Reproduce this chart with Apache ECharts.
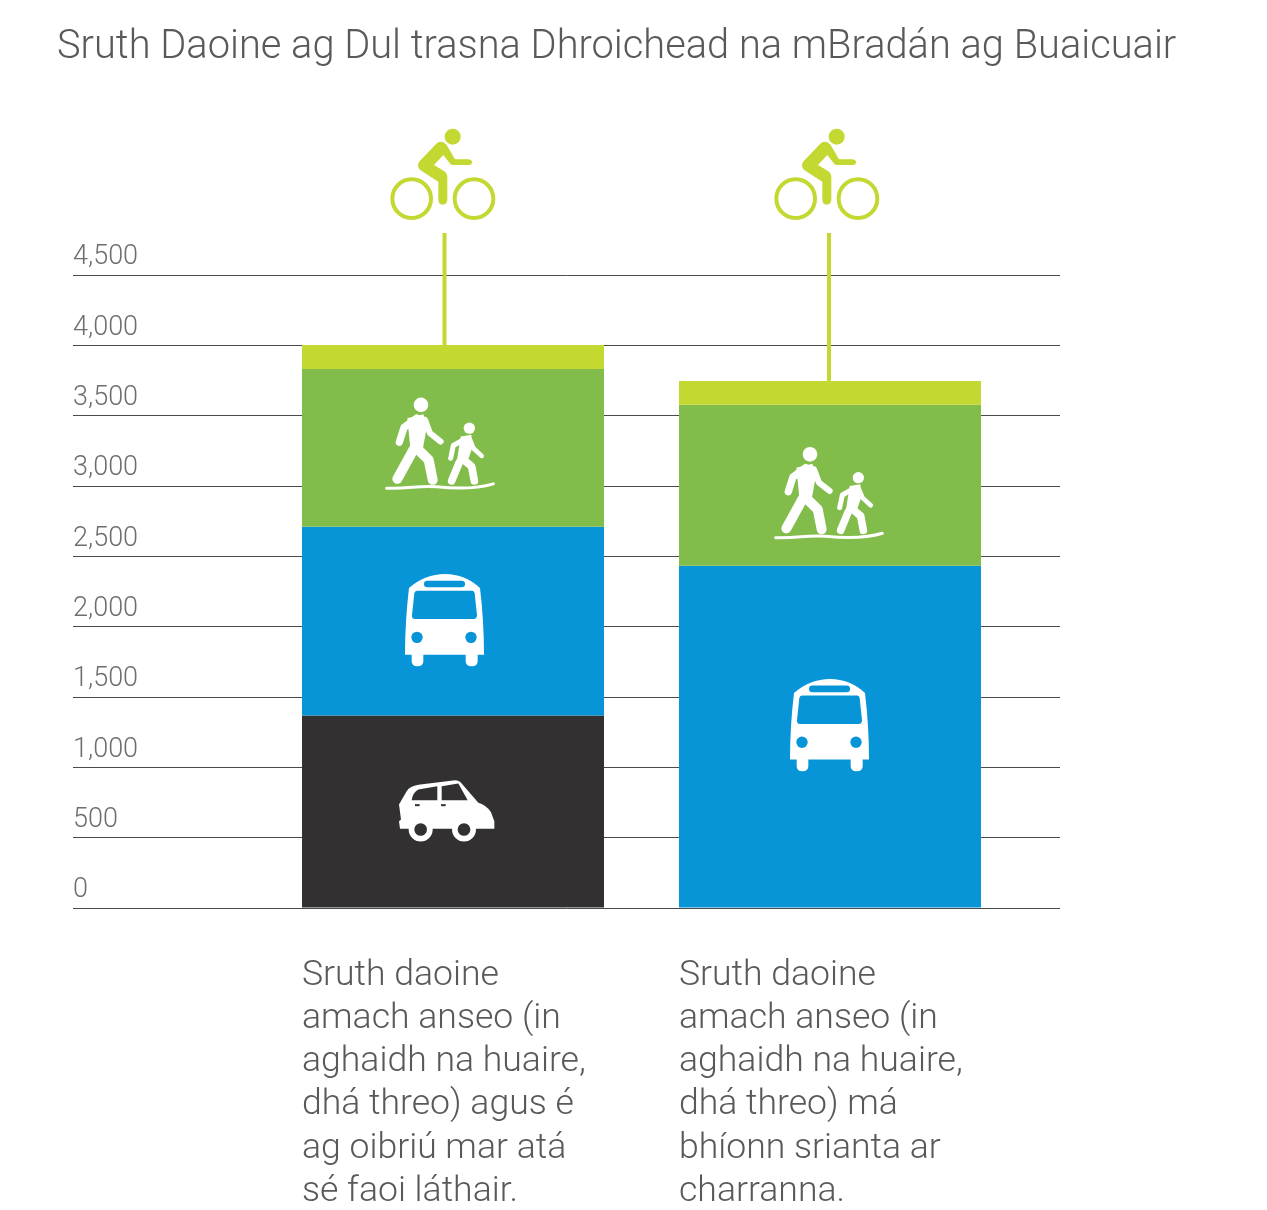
<!DOCTYPE html>
<html><head><meta charset="utf-8">
<style>html,body{margin:0;padding:0;background:#fff}#c{width:1267px;height:1210px}</style>
<script src="https://cdn.jsdelivr.net/npm/echarts@6/dist/echarts.min.js"></script>
</head><body><div id="c"></div>
<script>
const titleText = 'Sruth Daoine ag Dul trasna Dhroichead na mBradán ag Buaicuair';
const categories = [
  'Sruth daoine\namach anseo (in\naghaidh na huaire,\ndhá threo) agus é\nag oibriú mar atá\nsé faoi láthair.',
  'Sruth daoine\namach anseo (in\naghaidh na huaire,\ndhá threo) má\nbhíonn srianta ar\ncharranna.'
];
const carValues = [1365, 0];
const busValues = [1343, 2431];
const walkValues = [1124, 1145];
const cycleValues = [170, 170];

const FONT = 'Roboto';
const W = '#fff', LIME = '#c3d831', GREEN = '#82bc4a', BLUE = '#0795d8', DARK = '#323031';

function fillPath(d, fill) { return {type:'path', shape:{pathData:d}, style:{fill:fill}}; }
function strokePath(d, color, w) { return {type:'path', shape:{pathData:d}, style:{fill:'none', stroke:color, lineWidth:w, lineCap:'round', lineJoin:'round'}}; }
function disc(cx, cy, r, fill) { return {type:'circle', shape:{cx:cx, cy:cy, r:r}, style:{fill:fill}}; }
function ring(cx, cy, r, color, w) { return {type:'circle', shape:{cx:cx, cy:cy, r:r}, style:{fill:'none', stroke:color, lineWidth:w}}; }

const bikeIcon = () => [
  disc(278,50,24,LIME), ring(155,236,58,LIME,12), ring(342,236,58,LIME,12),
  fillPath('M232 68 Q248 60 260 75 L285 118 L326 118 Q336 120 336 127 Q336 135 326 135 L280 135 Q272 135 268 128 L250 105 L222 135 L252 153 Q262 160 262 172 L262 240 Q260 254 248 254 Q236 254 235 240 L235 185 L185 153 Q165 138 180 122 Z', LIME)
];
const walkIcon = () => [
  disc(153,60,22,W), disc(298,130,17,W),
  strokePath('M88 172 L102 128 L140 100 L130 190', W, 22),
  fillPath('M112 100 L160 88 L172 118 L158 195 L122 200 Z', W),
  strokePath('M130 195 L82 282', W, 30),
  strokePath('M140 190 L176 225 L188 285', W, 30),
  strokePath('M165 105 L180 145 L212 170', W, 18),
  strokePath('M242 220 L250 182 L285 162', W, 15),
  fillPath('M272 155 L304 150 L308 185 L292 232 L260 232 Z', W),
  strokePath('M268 232 L245 288', W, 23),
  strokePath('M278 222 L305 245 L313 288', W, 23),
  strokePath('M300 165 L310 190 L335 213', W, 14),
  strokePath('M50 310 C120 312 140 302 200 306 C260 312 320 312 370 297', W, 9)
];
const busIcon = () => [
  fillPath('M72 70 Q120 28 180 28 Q240 28 285 70 Q297 170 297 270 L278 270 L278 290 Q278 305 260 305 Q242 305 242 290 L242 270 L115 270 L115 290 Q115 305 97 305 Q80 305 80 290 L80 270 L60 270 Q60 170 72 70 Z', W),
  fillPath('M96 78 L262 78 Q268 78 269 86 L276 152 Q276 163 266 163 L90 163 Q80 163 81 152 L88 86 Q89 78 96 78 Z', BLUE),
  fillPath('M127 48 L230 48 Q240 48 240 58 Q240 68 230 68 L127 68 Q117 68 117 58 Q117 48 127 48 Z', BLUE),
  disc(96,218,17,BLUE), disc(258,218,17,BLUE)
];
const carIcon = () => [
  fillPath('M45 178 L42 155 L48 150 L42 105 L65 65 Q75 50 100 46 L210 32 Q222 32 230 42 L280 100 Q305 108 318 128 L328 155 L328 178 L45 178 Z', W),
  disc(107,180,36,W), disc(237,180,36,W),
  disc(107,180,19,DARK), disc(237,180,19,DARK),
  fillPath('M80 92 Q84 68 100 60 L157 50 L157 92 Z', DARK),
  fillPath('M170 50 L220 42 L248 92 L170 92 Z', DARK),
  fillPath('M90 104 L104 104 L104 110 L90 110 Z', DARK),
  fillPath('M168 104 L182 104 L182 110 L168 110 Z', DARK)
];

// Anchors: each pictogram sits on its segment's middle (or the stack top), nudged by a pixel offset.
const stackTop = i => carValues[i] + busValues[i] + walkValues[i] + cycleValues[i];
const placements = [
  {cat:0, value:carValues[0]/2, dx:-68, dy:-42, icon:carIcon},
  {cat:0, value:carValues[0]+busValues[0]/2, dx:-68, dy:-56.5, icon:busIcon},
  {cat:1, value:carValues[1]+busValues[1]/2, dx:-60, dy:-67, icon:busIcon},
  {cat:0, value:carValues[0]+busValues[0]+walkValues[0]/2, dx:-83, dy:-63, icon:walkIcon},
  {cat:1, value:carValues[1]+busValues[1]+walkValues[1]/2, dx:-71, dy:-51, icon:walkIcon},
  {cat:0, value:stackTop(0), dx:-93, dy:-225, icon:bikeIcon, leadDx:-8.5},
  {cat:1, value:stackTop(1), dx:-86, dy:-261, icon:bikeIcon, leadDx:-1}
];
const LEADER_TOP = 233;

const barSeries = (name, data, color) => ({
  name:name, type:'bar', stack:'flow', xAxisIndex:1, yAxisIndex:1,
  barWidth:302, data:data, itemStyle:{color:color}, silent:true, z:5
});

const chart = echarts.init(document.getElementById('c'), null, {renderer:'canvas'});
chart.setOption({
  animation:false,
  backgroundColor:'#fff',
  title:{text:titleText, left:52, top:23, textStyle:{fontFamily:FONT, fontWeight:300, fontSize:39.8, color:'#58595b'}},
  grid:[
    {left:73, right:207, top:275, height:633},
    {left:264.5, right:248.5, top:275, height:633}
  ],
  xAxis:[
    {type:'category', gridIndex:0, data:[''], show:false},
    {type:'category', gridIndex:1, data:categories,
      axisLine:{show:false}, axisTick:{show:false},
      axisLabel:{interval:0, margin:47, hideOverlap:false,
        formatter:(v)=>v.split('\n').map(l=>'{a|'+l+'}').join('\n'),
        rich:{a:{width:302, align:'left', fontFamily:FONT, fontWeight:300, fontSize:35.6, lineHeight:43.2, color:'#58595b'}}}}
  ],
  yAxis:[
    {type:'value', gridIndex:0, min:0, max:4500, interval:500,
      axisLine:{show:false}, axisTick:{show:false},
      splitLine:{show:true, lineStyle:{color:'#4a4a4a', width:1}},
      axisLabel:{inside:true, margin:0, align:'left', verticalAlign:'bottom', padding:[0,0,4,0],
        fontFamily:FONT, fontWeight:300, fontSize:27, color:'#6d6e70',
        formatter:(v)=>v.toLocaleString('en-US')}},
    {type:'value', gridIndex:1, min:0, max:4500, interval:500, show:false, splitLine:{show:false}}
  ],
  series:[
    barSeries('Carranna', carValues, DARK),
    barSeries('Busanna', busValues, BLUE),
    barSeries('Coisithe', walkValues, GREEN),
    barSeries('Rothaithe', cycleValues, LIME),
    {type:'custom', xAxisIndex:1, yAxisIndex:1, silent:true, z:20, clip:false,
      data:placements.map(p=>[p.cat, p.value]),
      encode:{x:0, y:1},
      renderItem:(params, api)=>{
        const p = placements[params.dataIndex];
        const c = api.coord([api.value(0), api.value(1)]);
        const children = [{type:'group', x:c[0]+p.dx, y:c[1]+p.dy, scaleX:1/3, scaleY:1/3, children:p.icon()}];
        if (p.leadDx !== undefined) children.push({type:'line',
          shape:{x1:c[0]+p.leadDx, y1:LEADER_TOP, x2:c[0]+p.leadDx, y2:c[1]},
          style:{stroke:LIME, lineWidth:4}});
        return {type:'group', children:children};
      }}
  ]
});
</script></body></html>
